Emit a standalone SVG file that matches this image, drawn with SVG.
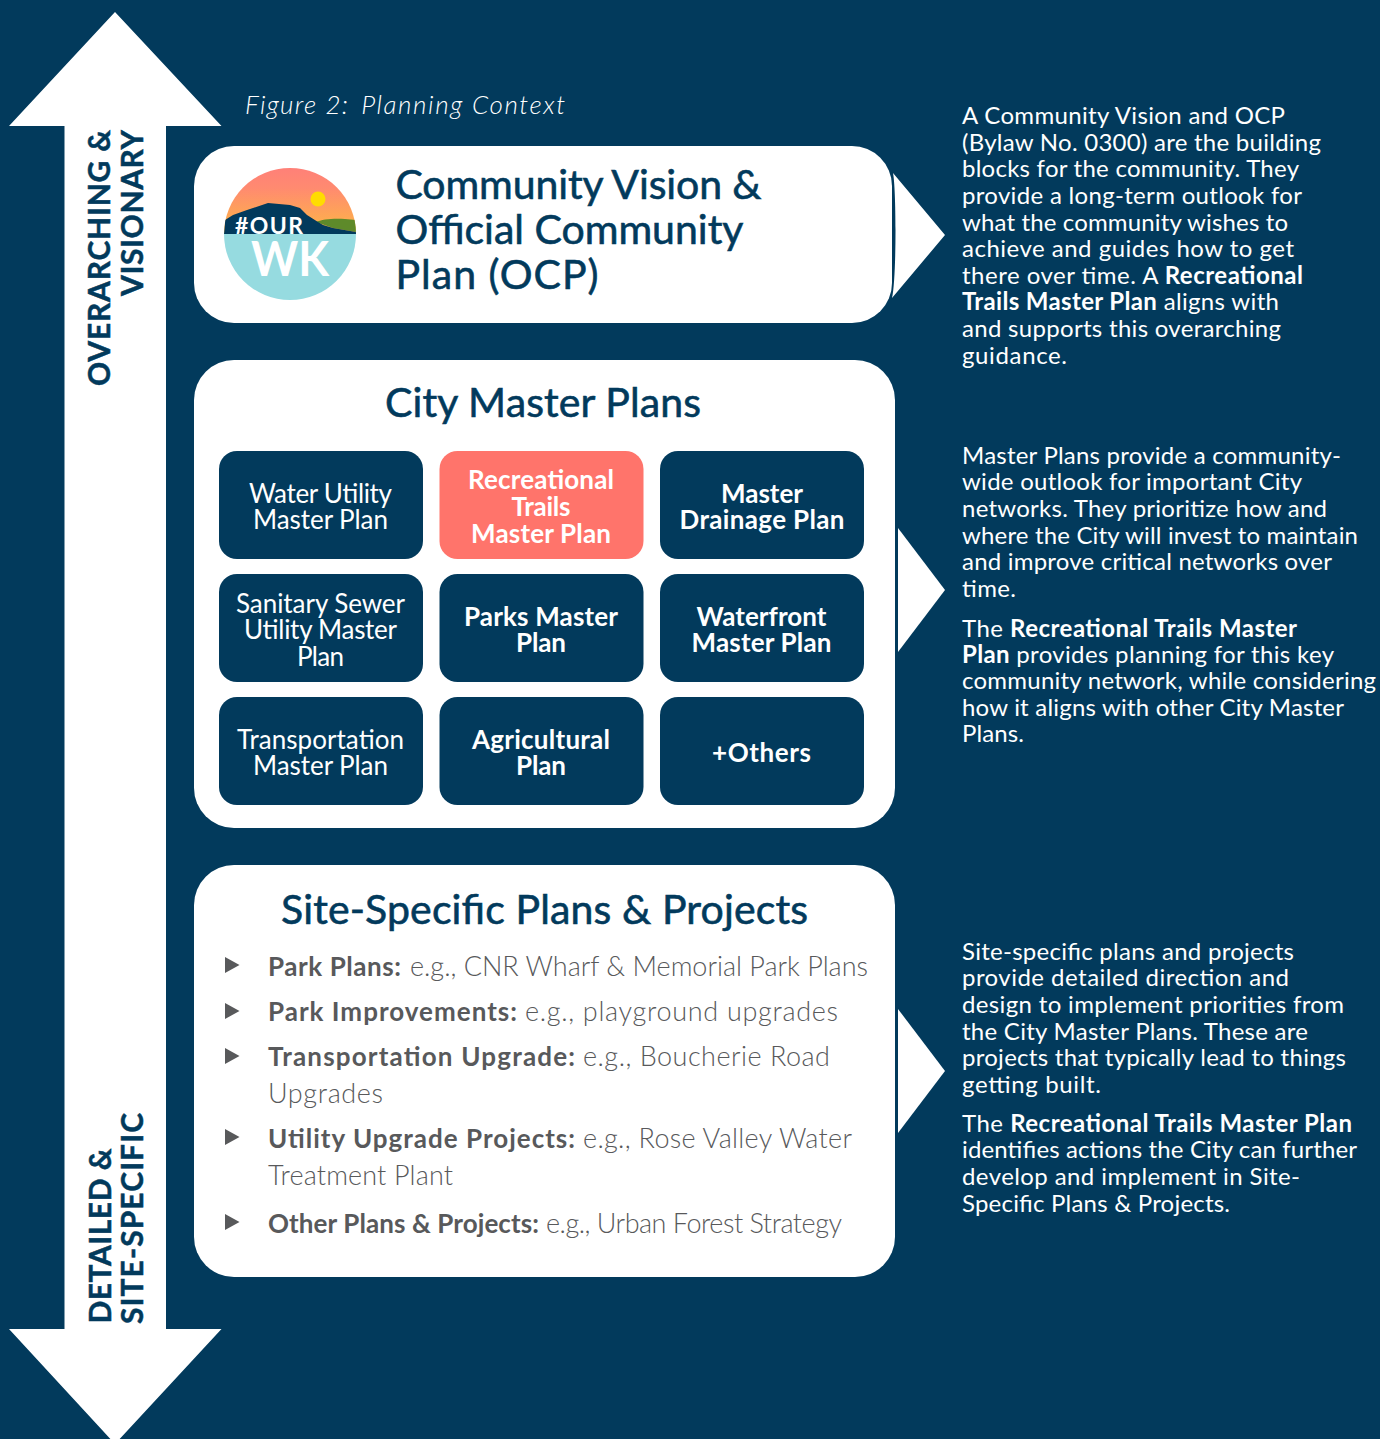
<svg xmlns="http://www.w3.org/2000/svg" width="1380" height="1439" viewBox="0 0 1380 1439">
<style>
text{font-family:Lato,"Noto Sans",sans-serif}
.w{fill:#fff}
.n{fill:#023a5c}
.r{font-size:24px;fill:#fff}
.b{font-weight:700}
.h{font-size:41px;fill:#023a5c;stroke:#023a5c;stroke-width:.6px}
.c{font-size:26px;text-anchor:middle;fill:#fff}
.v{font-size:30px;font-weight:700;fill:#023a5c;stroke:#023a5c;stroke-width:.5px}
.l{font-size:27px;fill:#58595b;font-weight:300}
.lb{font-size:26px;font-weight:700}
.box{fill:#023a5c}
</style>
<defs>
<linearGradient id="sky" x1="0" y1="0" x2="0" y2="1"><stop offset="0" stop-color="#ff8078"/><stop offset=".3" stop-color="#ff8a70"/><stop offset="1" stop-color="#fdb844"/></linearGradient>
<clipPath id="logo"><circle cx="290" cy="234" r="66"/></clipPath>
</defs>
<rect width="1380" height="1439" fill="#023a5c"/>

<g id="arrow-up">
<polygon class="w" points="115,12 221.5,126 166,126 166,700 64.5,700 64.5,126 9,126"/>
<text class="v" transform="translate(110,386) rotate(-90)" textLength="256">OVERARCHING &amp;</text>
<text class="v" transform="translate(142.7,296) rotate(-90)" textLength="166">VISIONARY</text>
</g>
<g id="arrow-down">
<polygon class="w" points="64.5,700 166,700 166,1329 221.5,1329 115,1444 9,1329 64.5,1329"/>
<text class="v" transform="translate(110.5,1323.5) rotate(-90)" textLength="175">DETAILED &amp;</text>
<text class="v" transform="translate(142.7,1324) rotate(-90)" textLength="211">SITE-SPECIFIC</text>
</g>

<text id="figure-title" y="114" font-size="26" font-style="italic" font-weight="300" fill="#fff"><tspan x="245" textLength="103">Figure 2:</tspan><tspan x="353" textLength="212"> Planning Context</tspan></text>

<g id="connectors">
<path class="w" d="M893,173 L945,235 L892,298 C896.5,280 896.5,190 893,173Z"/>
<polygon class="w" points="898,528 945,590 898,652"/>
<polygon class="w" points="898,1009 945,1071 898,1133"/>
</g>

<g id="vision-node">
<rect class="w" x="194" y="146" width="698" height="177" rx="40"/>
<g clip-path="url(#logo)">
<rect x="224" y="168" width="132" height="66" fill="url(#sky)"/>
<circle cx="318" cy="199" r="7.5" fill="#ffdc00"/>
<path d="M316,222 C322,219 335,218 345,219 L356,220 L356,232 L333,228 Z" fill="#5e8a2a"/>
<path d="M224,234 L225,220 L233,215 L247,210 L268,203 L290,205 L300,208 L307,215 L318,222 L323,225 L333,228 L356,232 L356,234 Z" class="n"/>
<rect x="224" y="234" width="132" height="66" fill="#96dbe0"/>
</g>
<text x="235" y="233.5" font-size="23" font-weight="700" fill="#fff" textLength="68">#OUR</text>
<text x="251" y="276" font-size="47" font-weight="700" fill="#fff" textLength="78" lengthAdjust="spacingAndGlyphs">WK</text>
<text class="h" x="395.500" y="199" textLength="366">Community Vision &amp;</text>
<text class="h" x="395.500" y="244" textLength="348">Official Community</text>
<text class="h" x="395.500" y="289" textLength="203">Plan (OCP)</text>
</g>

<g id="master-plans-node">
<rect class="w" x="194" y="360" width="701" height="468" rx="40"/>
<text class="h" x="385" y="417" textLength="316">City Master Plans</text>
</g>
<g id="water-utility"><rect class="box" x="219" y="451" width="204" height="108" rx="18"/><text class="c" x="320.500" y="502.500" textLength="143">Water Utility</text><text class="c" x="320.500" y="528.500" textLength="135">Master Plan</text></g>
<g id="rec-trails"><rect x="439.500" y="451" width="204" height="108" rx="18" fill="#ff746b"/><text class="c b" x="541" y="488.500" textLength="146">Recreational</text><text class="c b" x="541" y="515.500" textLength="59">Trails</text><text class="c b" x="541" y="542.500" textLength="140">Master Plan</text></g>
<g id="drainage"><rect class="box" x="660" y="451" width="204" height="108" rx="18"/><text class="c b" x="762" y="502.500" textLength="82">Master</text><text class="c b" x="762" y="528.500" textLength="165">Drainage Plan</text></g>
<g id="sewer"><rect class="box" x="219" y="574" width="204" height="108" rx="18"/><text class="c" x="320.500" y="612.500" textLength="169">Sanitary Sewer</text><text class="c" x="320.500" y="638.500" textLength="153">Utility Master</text><text class="c" x="320.500" y="665.500" textLength="47">Plan</text></g>
<g id="parks"><rect class="box" x="439.500" y="574" width="204" height="108" rx="18"/><text class="c b" x="541" y="625.500" textLength="154">Parks Master</text><text class="c b" x="541" y="652" textLength="50">Plan</text></g>
<g id="waterfront"><rect class="box" x="660" y="574" width="204" height="108" rx="18"/><text class="c b" x="761.500" y="625.500" textLength="130">Waterfront</text><text class="c b" x="761.500" y="652" textLength="140">Master Plan</text></g>
<g id="transportation"><rect class="box" x="219" y="697" width="204" height="108" rx="18"/><text class="c" x="320.500" y="748.500" textLength="167">Transportation</text><text class="c" x="320.500" y="775" textLength="135">Master Plan</text></g>
<g id="agricultural"><rect class="box" x="439.500" y="697" width="204" height="108" rx="18"/><text class="c b" x="541" y="748.500" textLength="138">Agricultural</text><text class="c b" x="541" y="775" textLength="50">Plan</text></g>
<g id="others"><rect class="box" x="660" y="697" width="204" height="108" rx="18"/><text class="c b" x="761.500" y="761.500" textLength="99">+Others</text></g>

<g id="site-node">
<rect class="w" x="194" y="865" width="701" height="412" rx="40"/>
<text class="h" x="281" y="924" textLength="527">Site-Specific Plans &amp; Projects</text>
<g fill="#58595b">
<polygon points="225,957 239.500,965 225,973"/>
<polygon points="225,1003 239.500,1011 225,1019"/>
<polygon points="225,1048 239.500,1056 225,1064"/>
<polygon points="225,1129 239.500,1137 225,1145"/>
<polygon points="225,1214 239.500,1222 225,1230"/>
</g>
<text class="l" y="975.500"><tspan class="lb" x="268" textLength="133">Park Plans:</tspan><tspan x="410" textLength="458">e.g., CNR Wharf &amp; Memorial Park Plans</tspan></text>
<text class="l" y="1020.500"><tspan class="lb" x="268" textLength="249">Park Improvements:</tspan><tspan x="525" textLength="313">e.g., playground upgrades</tspan></text>
<text class="l" y="1065.500"><tspan class="lb" x="268" textLength="307">Transportation Upgrade:</tspan><tspan x="583" textLength="247">e.g., Boucherie Road</tspan></text>
<text class="l" x="268" y="1102.500" textLength="115">Upgrades</text>
<text class="l" y="1147.500"><tspan class="lb" x="268" textLength="307">Utility Upgrade Projects:</tspan><tspan x="583" textLength="269">e.g., Rose Valley Water</tspan></text>
<text class="l" x="268" y="1184.500" textLength="185">Treatment Plant</text>
<text class="l" y="1232.500"><tspan class="lb" x="268" textLength="271">Other Plans &amp; Projects:</tspan><tspan x="546" textLength="296">e.g., Urban Forest Strategy</tspan></text>
</g>

<g id="desc-vision">
<text class="r" x="962" y="124" textLength="323">A Community Vision and OCP</text>
<text class="r" x="962" y="151" textLength="359">(Bylaw No. 0300) are the building</text>
<text class="r" x="962" y="177" textLength="337">blocks for the community. They</text>
<text class="r" x="962" y="204" textLength="340">provide a long-term outlook for</text>
<text class="r" x="962" y="231" textLength="326">what the community wishes to</text>
<text class="r" x="962" y="257" textLength="332">achieve and guides how to get</text>
<text class="r" x="962" y="284" textLength="341">there over time. A <tspan class="b">Recreational</tspan></text>
<text class="r" x="962" y="310" textLength="317"><tspan class="b">Trails Master Plan</tspan> aligns with</text>
<text class="r" x="962" y="337" textLength="319">and supports this overarching</text>
<text class="r" x="962" y="364" textLength="105">guidance.</text>
</g>
<g id="desc-master">
<text class="r" x="962" y="464" textLength="379">Master Plans provide a community-</text>
<text class="r" x="962" y="490" textLength="340">wide outlook for important City</text>
<text class="r" x="962" y="517" textLength="365">networks. They prioritize how and</text>
<text class="r" x="962" y="544" textLength="396">where the City will invest to maintain</text>
<text class="r" x="962" y="570" textLength="370">and improve critical networks over</text>
<text class="r" x="962" y="597" textLength="54">time.</text>
<text class="r" x="962" y="636.500" textLength="335">The <tspan class="b">Recreational Trails Master</tspan></text>
<text class="r" x="962" y="662.500" textLength="372"><tspan class="b">Plan</tspan> provides planning for this key</text>
<text class="r" x="962" y="689" textLength="414">community network, while considering</text>
<text class="r" x="962" y="716" textLength="382">how it aligns with other City Master</text>
<text class="r" x="962" y="742" textLength="62">Plans.</text>
</g>
<g id="desc-site">
<text class="r" x="962" y="960" textLength="332">Site-specific plans and projects</text>
<text class="r" x="962" y="986" textLength="327">provide detailed direction and</text>
<text class="r" x="962" y="1013" textLength="382">design to implement priorities from</text>
<text class="r" x="962" y="1040" textLength="346">the City Master Plans. These are</text>
<text class="r" x="962" y="1066" textLength="384">projects that typically lead to things</text>
<text class="r" x="962" y="1093" textLength="139">getting built.</text>
<text class="r" x="962" y="1132" textLength="390">The <tspan class="b">Recreational Trails Master Plan</tspan></text>
<text class="r" x="962" y="1158" textLength="395">identifies actions the City can further</text>
<text class="r" x="962" y="1185" textLength="338">develop and implement in Site-</text>
<text class="r" x="962" y="1212" textLength="268">Specific Plans &amp; Projects.</text>
</g>
</svg>
